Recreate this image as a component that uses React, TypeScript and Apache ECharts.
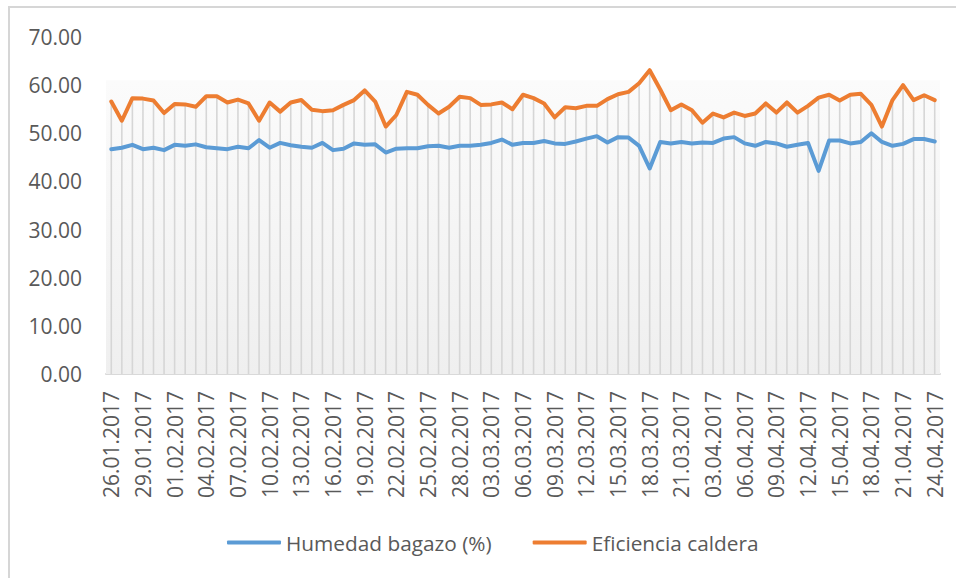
import React, { useEffect, useRef } from "react";
import * as echarts from "echarts";

const fechas: string[] = [
  "26.01.2017", "27.01.2017", "28.01.2017", "29.01.2017", "30.01.2017", "31.01.2017",
  "01.02.2017", "02.02.2017", "03.02.2017", "04.02.2017", "05.02.2017", "06.02.2017", "07.02.2017",
  "08.02.2017", "09.02.2017", "10.02.2017", "11.02.2017", "12.02.2017", "13.02.2017", "14.02.2017",
  "15.02.2017", "16.02.2017", "17.02.2017", "18.02.2017", "19.02.2017", "20.02.2017", "21.02.2017",
  "22.02.2017", "23.02.2017", "24.02.2017", "25.02.2017", "26.02.2017", "27.02.2017", "28.02.2017",
  "01.03.2017", "02.03.2017", "03.03.2017", "04.03.2017", "05.03.2017", "06.03.2017", "07.03.2017",
  "08.03.2017", "09.03.2017", "10.03.2017", "11.03.2017", "12.03.2017", "13.03.2017", "14.03.2017",
  "15.03.2017", "16.03.2017", "17.03.2017", "18.03.2017", "19.03.2017", "20.03.2017", "21.03.2017",
  "22.03.2017", "23.03.2017",
  "03.04.2017", "04.04.2017", "05.04.2017", "06.04.2017", "07.04.2017", "08.04.2017", "09.04.2017",
  "10.04.2017", "11.04.2017", "12.04.2017", "13.04.2017", "14.04.2017", "15.04.2017", "16.04.2017",
  "17.04.2017", "18.04.2017", "19.04.2017", "20.04.2017", "21.04.2017", "22.04.2017", "23.04.2017",
  "24.04.2017",
];

const humedadBagazo: number[] = [
  46.7, 47.0, 47.6, 46.7, 47.0, 46.5, 47.6, 47.4, 47.7, 47.1,
  46.9, 46.7, 47.2, 46.9, 48.6, 47.0, 48.0, 47.5, 47.2, 47.0,
  48.0, 46.5, 46.8, 47.9, 47.6, 47.7, 46.0, 46.8, 46.9, 46.9,
  47.3, 47.4, 47.0, 47.4, 47.4, 47.6, 48.0, 48.7, 47.6, 48.0,
  48.0, 48.4, 47.9, 47.8, 48.3, 48.9, 49.4, 48.1, 49.2, 49.1,
  47.4, 42.7, 48.2, 47.9, 48.2, 47.9, 48.1, 48.0, 48.9, 49.2,
  47.9, 47.4, 48.2, 47.9, 47.2, 47.6, 48.0, 42.2, 48.5, 48.5,
  47.9, 48.2, 50.0, 48.2, 47.4, 47.8, 48.8, 48.8, 48.3,
];

const eficienciaCaldera: number[] = [
  56.6, 52.6, 57.3, 57.2, 56.8, 54.2, 56.1, 56.0, 55.5, 57.7,
  57.7, 56.4, 57.0, 56.2, 52.6, 56.4, 54.5, 56.4, 56.9, 54.9,
  54.6, 54.8, 55.9, 56.9, 58.9, 56.6, 51.4, 53.8, 58.6, 58.0,
  55.9, 54.1, 55.5, 57.6, 57.3, 55.9, 56.0, 56.4, 55.0, 58.0,
  57.3, 56.2, 53.3, 55.4, 55.2, 55.7, 55.7, 57.1, 58.1, 58.6,
  60.4, 63.1, 59.1, 54.8, 56.0, 54.8, 52.2, 54.1, 53.3, 54.3,
  53.6, 54.1, 56.2, 54.3, 56.4, 54.3, 55.7, 57.4, 58.0, 56.8,
  58.0, 58.2, 55.9, 51.4, 56.9, 60.0, 56.9, 57.9, 56.9,
];

const yTicks = { min: 0, max: 70, interval: 10 };
const gradientTop = 61;

const FONT = "'Open Sans', 'Noto Sans', sans-serif";
const TEXT = "#595959";

export default function App() {
  const ref = useRef<HTMLDivElement>(null);

  useEffect(() => {
    if (!ref.current) return;
    const chart = echarts.init(ref.current, undefined, { renderer: "svg" });
    chart.setOption({
      animation: false,
      backgroundColor: "#ffffff",
      textStyle: { fontFamily: FONT },
      graphic: [
        { type: "line", shape: { x1: 9, y1: 6, x2: 9, y2: 578 }, style: { stroke: "#d6d6d6", lineWidth: 2 }, silent: true },
        { type: "line", shape: { x1: 8, y1: 7, x2: 956, y2: 7 }, style: { stroke: "#d6d6d6", lineWidth: 2 }, silent: true },
      ],
      grid: { left: 106, right: 16, top: 37, bottom: 204, containLabel: false },
      legend: {
        data: ["Humedad bagazo (%)", "Eficiencia caldera"],
        left: 227,
        top: 532,
        padding: 0,
        icon: "roundRect",
        itemWidth: 54,
        itemHeight: 4,
        itemGap: 41,
        textStyle: { color: TEXT, fontSize: 20.8, fontFamily: FONT },
      },
      xAxis: {
        type: "category",
        data: fechas,
        boundaryGap: true,
        axisLine: { show: true, lineStyle: { color: "#d9d9d9", width: 2 } },
        axisTick: { show: false },
        splitLine: { show: false },
        axisLabel: {
          rotate: 90,
          interval: 2,
          margin: 17,
          color: TEXT,
          fontSize: 21,
          fontFamily: FONT,
        },
      },
      yAxis: {
        type: "value",
        min: yTicks.min,
        max: yTicks.max,
        interval: yTicks.interval,
        axisLine: { show: false },
        axisTick: { show: false },
        splitLine: { show: false },
        axisLabel: {
          color: TEXT,
          fontSize: 21,
          fontFamily: FONT,
          margin: 24,
          formatter: (v: number) => v.toFixed(2),
        },
      },
      series: [
        {
          name: "drop",
          type: "bar",
          data: eficienciaCaldera,
          barWidth: 1.6,
          silent: true,
          itemStyle: { color: "#d6d6d6" },
          z: 1,
          markArea: {
            silent: true,
            itemStyle: {
              color: {
                type: "linear", x: 0, y: 0, x2: 0, y2: 1,
                colorStops: [
                  { offset: 0, color: "#fbfbfb" },
                  { offset: 1, color: "#efefef" },
                ],
              },
            },
            data: [[{ yAxis: gradientTop }, { yAxis: 0 }]],
          },
        },
        {
          name: "Humedad bagazo (%)",
          type: "line",
          data: humedadBagazo,
          symbol: "none",
          showSymbol: false,
          lineStyle: { color: "#5B9BD5", width: 4, cap: "round", join: "round" },
          itemStyle: { color: "#5B9BD5" },
          z: 3,
        },
        {
          name: "Eficiencia caldera",
          type: "line",
          data: eficienciaCaldera,
          symbol: "none",
          showSymbol: false,
          lineStyle: { color: "#ED7D31", width: 4, cap: "round", join: "round" },
          itemStyle: { color: "#ED7D31" },
          z: 4,
        },
      ],
    });
    return () => chart.dispose();
  }, []);

  return (
    <div
      ref={ref}
      style={{ position: "absolute", left: 0, top: 0, width: 956, height: 578 }}
    />
  );
}
